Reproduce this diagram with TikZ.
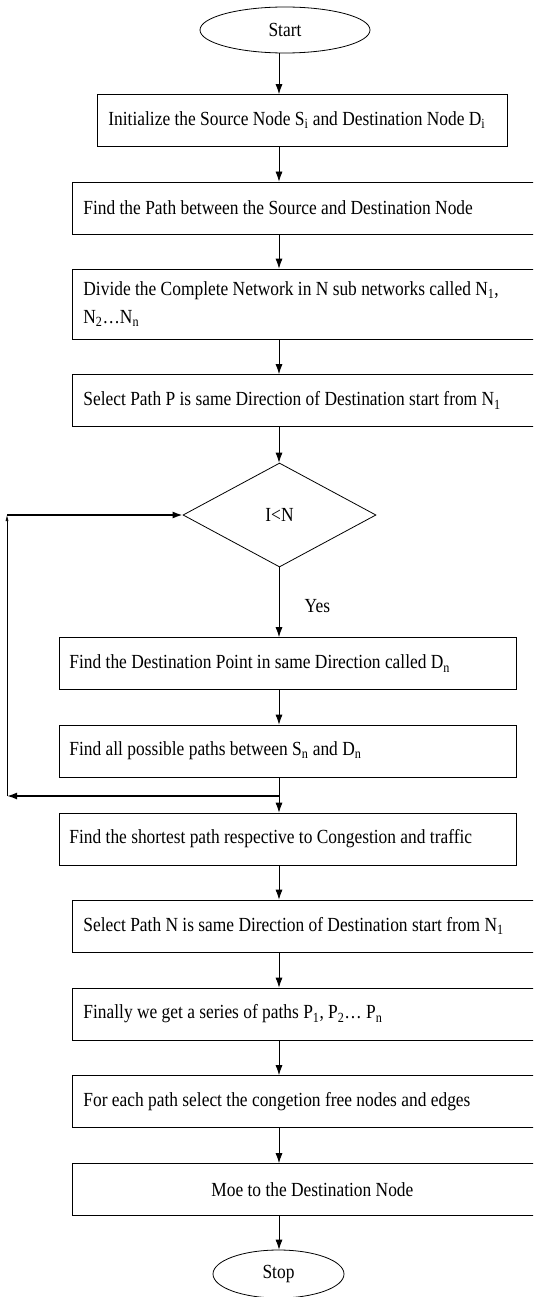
\documentclass[tikz,border=0pt]{standalone}
\usepackage{fontspec}
\setmainfont[FakeStretch=0.87]{Liberation Serif}
\usetikzlibrary{shapes.geometric,arrows.meta}
\newcommand\flowfont{\fontsize{20}{28}\selectfont}

\begin{document}
\begin{tikzpicture}[%
	    x=1pt, y=-1pt,
	    ->,
	    >={Latex[length=10pt,width=7pt]},
	    font=\flowfont,
	    line width=0.8pt,
	    term/.style={ellipse, draw, minimum height=46pt, inner sep=0pt},
	    proc/.style={rectangle, draw, anchor=west, minimum height=52pt,
	      inner xsep=11pt, inner ysep=0pt, align=flush left},
	    wide/.style={proc, text width=458pt},
	    narrow/.style={proc, text width=437pt, inner xsep=10pt},
	    dec/.style={diamond, draw, minimum width=193pt, minimum height=104pt,
	      inner sep=0pt},
	    loopline/.style={line width=1.6pt}
	  ]

	  \path[use as bounding box] (0,0) rectangle (533,1297);
	  \clip (0,0) rectangle (533,1297);

	  %\coordinate (col) marks the column of the down arrows
	  \coordinate (col) at (279,0);

	  \node[term, minimum width=170pt] (start) at (285,30) {Start};
	  \node[proc, text width=388pt] (init) at (97,120.5)
	    {Initialize the Source Node S\textsubscript{i} and Destination Node D\textsubscript{i}};
	  \node[wide] (path) at (72,208) {Find the Path between the Source and Destination Node};
	  \node[wide, minimum height=70pt] (divide) at (72,304)
	    {Divide the Complete Network in N sub networks called N\textsubscript{1},\\
	     N\textsubscript{2}…N\textsubscript{n}};
	  \node[wide] (selP) at (72,400.5)
	    {Select Path P is same Direction of Destination start from N\textsubscript{1}};
	  \node[dec] (cond) at (279.5,515) {I<N};
	  \node[narrow] (dest) at (59,663.5)
	    {Find the Destination Point in same Direction called D\textsubscript{n}};
	  \node[narrow] (all) at (59,751)
	    {Find all possible paths between S\textsubscript{n} and D\textsubscript{n}};
	  \node[narrow] (short) at (59,839)
	    {Find the shortest path respective to Congestion and traffic};
	  \node[wide] (selN) at (72,926)
	    {Select Path N is same Direction of Destination start from N\textsubscript{1}};
	  \node[wide] (series) at (72,1014)
	    {Finally we get a series of paths P\textsubscript{1}, P\textsubscript{2}… P\textsubscript{n}};
	  \node[wide] (free) at (72,1101.5)
	    {For each path select the congetion free nodes and edges};
	  \node[wide, align=flush center] (move) at (72,1189.5)
	    {Moe to the Destination Node\hspace*{50pt}};
	  \node[term, minimum width=131pt, minimum height=48pt] (stop) at (278.5,1274) {Stop};

	  % down arrows
	  \foreach \a/\b in {start/init, init/path, path/divide, divide/selP, selP/cond,
	                     dest/all, all/short, short/selN, selN/series,
	                     series/free, free/move, move/stop}
	    \draw (\a.south -| col) -- (\b.north -| col);

	  \draw (cond.south -| col) -- node[anchor=west, pos=0.56, xshift=22pt] {Yes}
	    (dest.north -| col);

	  % loop back to the decision
	  \coordinate (jn) at (279,796);
	  \coordinate (lp) at (7,796);
	  \coordinate (lq) at (7,515);
	  \draw[loopline] (jn) -- (lp);
	  \draw[-{Latex[length=6pt,width=3pt]}, line width=0.6pt] (lp) -- (lq);
	  \draw[loopline] (lq) -- (cond.west);

\end{tikzpicture}
\end{document}
